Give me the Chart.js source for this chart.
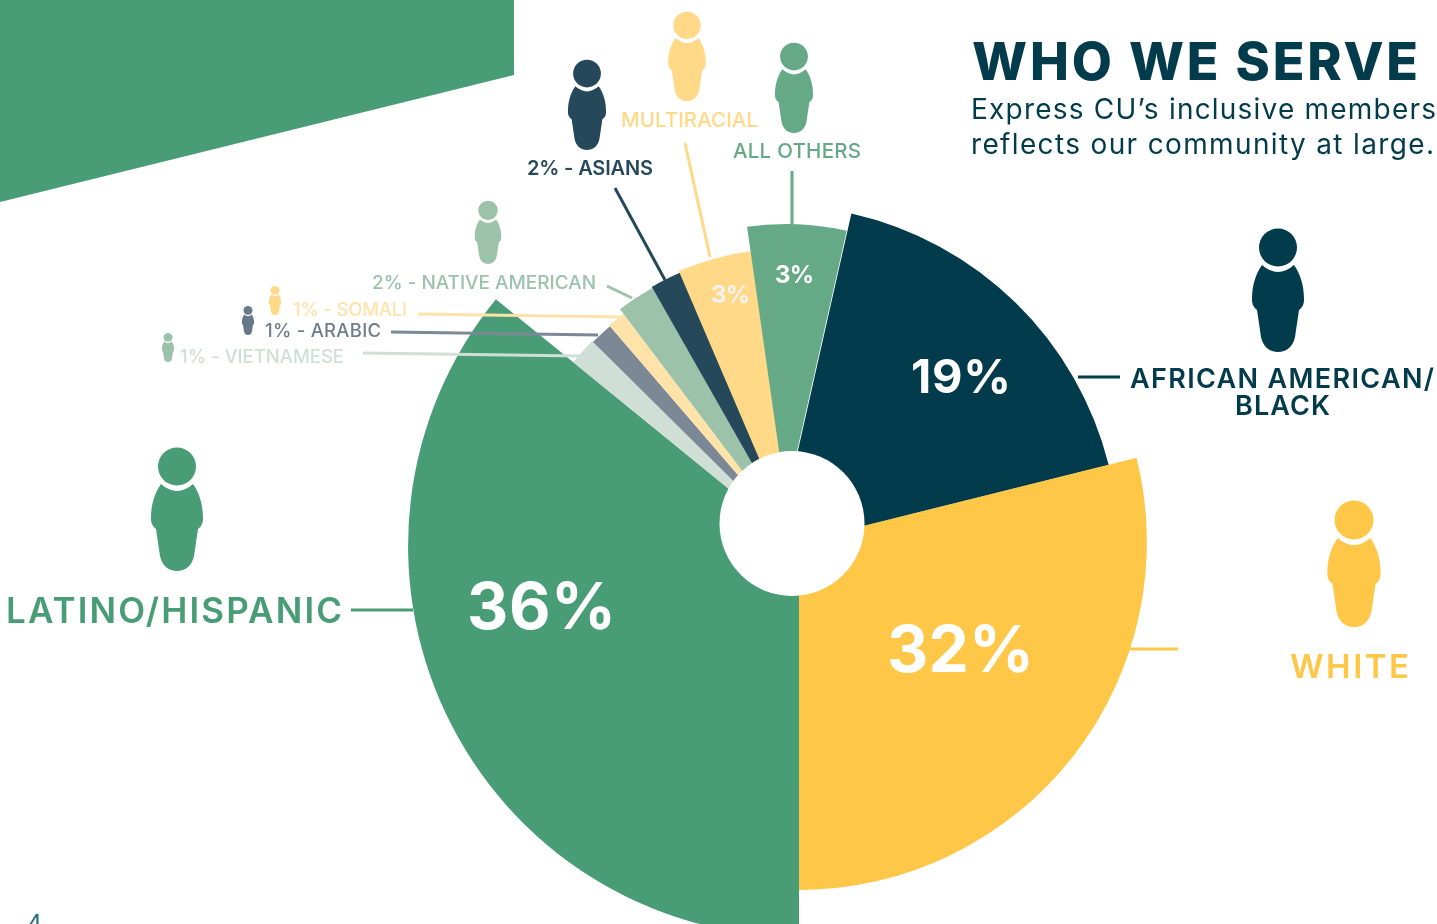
<!DOCTYPE html>
<html>
<head>
<meta charset="utf-8">
<style>html,body{margin:0;padding:0;background:#fff;overflow:hidden}canvas{display:block}</style>
<script src="https://cdn.jsdelivr.net/npm/chart.js@4"></script>
</head>
<body>
<canvas id="c" width="1437" height="924"></canvas>
<script>
// Slice order runs clockwise from the top of the African American slice.
const categories = ['African American/Black','White','Latino/Hispanic','Vietnamese','Arabic','Somali','Native American','Asians','Multiracial','All Others'];
// Share of the circle each slice occupies as drawn in the picture.
const drawnShares = [17.58,28.89,35.88,1.54,1.28,1.00,2.08,1.78,4.19,5.78];
// Percentages as printed on the picture.
const printedPercents = [19,32,36,1,1,1,2,2,3,3];

const sliceColors = ['#023b4b','#ffc748','#499d76','#d0dfd5','#7c8896','#ffe3a8','#9cc2aa','#25495a','#ffd987','#66a987'];
const radiusFactors = [.893,.906,1.018,.758,.755,.758,.773,.776,.742,.719];
const centerShifts = [[-22,8],[1,2],[1,6],[1,6],[1,6],[1,6],[1,6],[1,6],[-7,-7],[-12,-40]];

const GREEN='#499d76',NAVY='#023b4b',YEL='#ffc748';
const leaders = [
 [1078,377,1120,377,NAVY],[351,610,413,610,GREEN],[1130,649,1178,649,YEL],
 [792,171,792,226,'#66a987'],[685,143,710,257,'#ffd987'],[615,188,665,280,'#25495a'],
 [607,286,632,298,'#9cc2aa'],[418,314,623,317,'#ffe2a9'],[391,332,598,335,'#7c8896'],[363,353,580,356,'#d0dfd5']
];
const people = [
 [1278,229,123,NAVY],[1354,501,126,YEL],[177,448,123,GREEN],[687,12,89,'#ffd987'],[794,43,90,'#66a987'],
 [587,60,90,'#25495a'],[488,201,63,'#9cc2aa'],[275,286,29,'#ffd987'],[248,306,29,'#66788a'],[168,333,29,'#9cc2aa']
];
const p = printedPercents;
const texts = [
 ['WHO WE SERVE',972,80,446,52,800,NAVY],
 ['Express CU’s inclusive members',971,119,465,28,400,NAVY],
 ['reflects our community at large.',971,154,463,28,400,NAVY],
 ['AFRICAN AMERICAN/',1130,388,304,27,600,NAVY],
 ['BLACK',1235,415,95,27,600,NAVY],
 ['WHITE',1290,678,119,33,600,YEL],
 ['LATINO/HISPANIC',6,623,336,35,600,GREEN],
 [p[2]+'%',467,629,149,64,700,'#fff'],
 [p[1]+'%',887,672,147,64,700,'#fff'],
 [p[0]+'%',911,393,100,47,700,'#fff'],
 [p[9]+'%',775,283,39,24,700,'#fff'],
 [p[8]+'%',711,303,39,24,700,'#f2f2f2'],
 ['MULTIRACIAL',621,127,137,20.5,500,'#ffd987'],
 ['ALL OTHERS',733,158,128,20.5,500,'#66a987'],
 [p[7]+'% - ASIANS',527,175,126,20,600,'#25495a'],
 [p[6]+'% - NATIVE AMERICAN',372,289,224,19,500,'#9cc2aa'],
 [p[5]+'% - SOMALI',293,316,114,18.5,500,'#ffe2a9'],
 [p[4]+'% - ARABIC',265,337,116,18.5,500,'#6f7c8a'],
 [p[3]+'% - VIETNAMESE',180,363,164,18.5,500,'#d0dfd5'],
 ['4',23,938,18,33,300,'#2f6e7e']
];

function person(ctx,cx,top,h,color){
  const s=h/123;
  ctx.save();ctx.translate(cx,top);ctx.scale(s,s);ctx.fillStyle=color;
  ctx.beginPath();ctx.arc(0,18.5,19,0,Math.PI*2);ctx.fill();
  ctx.beginPath();
  ctx.moveTo(-16,36);ctx.quadraticCurveTo(0,50,16,36);
  ctx.bezierCurveTo(23,46,26,58,26,70);
  ctx.quadraticCurveTo(26.5,77,21,81);
  ctx.lineTo(17,108);
  ctx.bezierCurveTo(15,118,8,123,0,123);
  ctx.bezierCurveTo(-8,123,-15,118,-17,108);
  ctx.lineTo(-21,81);
  ctx.quadraticCurveTo(-26.5,77,-26,70);
  ctx.bezierCurveTo(-26,58,-23,46,-16,36);
  ctx.closePath();ctx.fill();
  ctx.restore();
}

const decor = {
  id:'decor',
  beforeDraw(chart){
    const ctx=chart.ctx;
    ctx.save();ctx.fillStyle=GREEN;ctx.beginPath();
    ctx.moveTo(0,0);ctx.lineTo(514,0);ctx.lineTo(514,75);ctx.lineTo(0,202);ctx.closePath();ctx.fill();ctx.restore();
  },
  beforeDatasetsDraw(chart){
    const meta=chart.getDatasetMeta(0),ctrl=meta.controller;
    const cx=(chart.chartArea.left+chart.chartArea.right)/2,cy=(chart.chartArea.top+chart.chartArea.bottom)/2;
    meta.data.forEach((el,i)=>{
      el.x=cx+centerShifts[i][0];el.y=cy+centerShifts[i][1];
      el.outerRadius=ctrl.outerRadius*radiusFactors[i];
    });
  },
  afterDatasetsDraw(chart){
    const ctx=chart.ctx;
    ctx.save();
    ctx.fillStyle='#fff';ctx.beginPath();ctx.arc(792,523.5,72.5,0,Math.PI*2);ctx.fill();
    ctx.lineWidth=3;
    leaders.forEach(l=>{ctx.strokeStyle=l[4];ctx.beginPath();ctx.moveTo(l[0],l[1]);ctx.lineTo(l[2],l[3]);ctx.stroke();});
    people.forEach(a=>person(ctx,a[0],a[1],a[2],a[3]));
    ctx.textBaseline='alphabetic';ctx.textAlign='left';
    texts.forEach(t=>{
      ctx.font=t[5]+' '+t[4]+'px Inter, "Open Sans", sans-serif';
      ctx.letterSpacing='0px';
      const w=ctx.measureText(t[0]).width;
      ctx.letterSpacing=((t[3]-w)/Math.max(1,t[0].length-1)).toFixed(3)+'px';
      ctx.fillStyle=t[6];
      ctx.fillText(t[0],t[1],t[2]);
    });
    ctx.restore();
  }
};

new Chart(document.getElementById('c'),{
  type:'doughnut',
  data:{labels:categories,datasets:[{data:drawnShares,backgroundColor:sliceColors,borderWidth:0,hoverOffset:0}]},
  options:{
    responsive:false,animation:false,cutout:0,rotation:12.7,
    layout:{padding:{left:159,top:156,right:0,bottom:0}},
    plugins:{legend:{display:false},tooltip:{enabled:false},title:{display:false}},
    events:[]
  },
  plugins:[decor]
});
</script>
</body>
</html>
